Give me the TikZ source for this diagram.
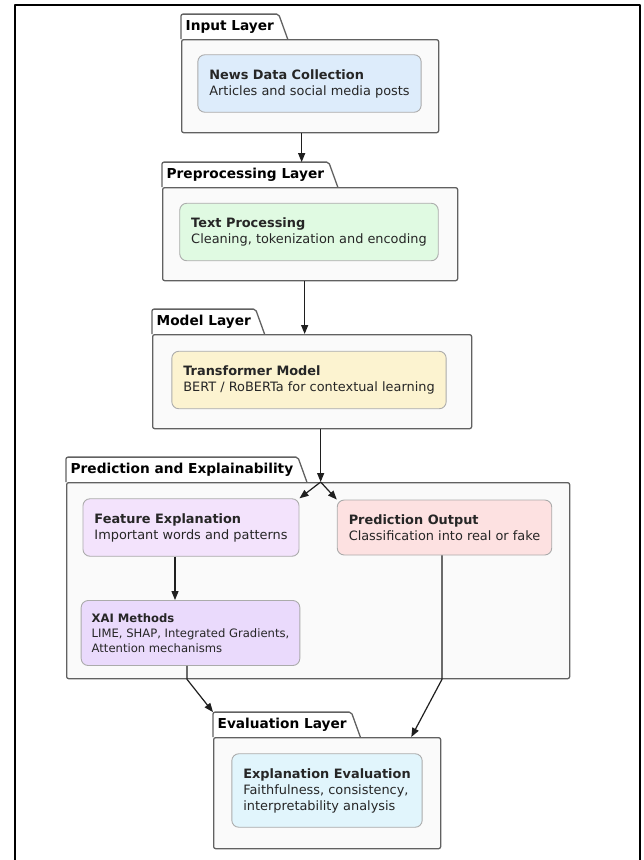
\documentclass[tikz,border=0pt]{standalone}
\usepackage{fontspec}
\setmainfont{DejaVu Sans}
\usetikzlibrary{positioning,arrows.meta,calc}
\definecolor{newsblue}{RGB}{221,236,251}
\definecolor{procgreen}{RGB}{224,250,226}
\definecolor{modelyellow}{RGB}{252,243,208}
\definecolor{featlilac}{RGB}{243,227,252}
\definecolor{predpink}{RGB}{253,225,225}
\definecolor{xaiviolet}{RGB}{234,218,252}
\definecolor{evalcyan}{RGB}{225,245,252}

\begin{document}
\begin{tikzpicture}[x=1pt,y=-1pt,line join=round,
  font=\fontsize{12.9}{16}\selectfont,
  pkg/.style={draw=black!62,fill=black!2,line width=1.3pt,rounded corners=2pt,
    anchor=north west,inner sep=0pt},
  pkgtab/.style={anchor=south west,inner xsep=4.5pt,inner ysep=0pt,minimum height=24.5pt,
    font=\fontsize{13.7}{16}\selectfont\bfseries},
  tabline/.style={draw=black!62,line width=1.3pt,rounded corners=2pt},
  card/.style={draw=black!33,line width=0.9pt,rounded corners=7pt,align=left,
    inner xsep=11.5pt,inner ysep=14.5pt,text=black!85},
  flow/.style={draw=black!88,line width=1.2pt,-{Triangle[length=9pt,width=7pt]}}]
  \useasboundingbox (0,0) rectangle (643,860);
  \draw[line width=1.8pt] (15,860) -- (15,5) -- (640,5) -- (640,860);

  % layer bodies
  \node[pkg,minimum width=257pt,minimum height=93pt] (inputLayer) at (181,39) {};
  \node[pkg,minimum width=295pt,minimum height=93pt] (prepLayer) at (162,187) {};
  \node[pkg,minimum width=319pt,minimum height=94pt] (modelLayer) at (152,334) {};
  \node[pkg,minimum width=503pt,minimum height=196pt] (predLayer) at (66,482) {};
  \node[pkg,minimum width=227pt,minimum height=111pt] (evalLayer) at (213,737) {};

  % tabs
  \node[pkgtab] (inputTab) at (inputLayer.north west) {Input Layer};
  \node[pkgtab] (prepTab) at (prepLayer.north west) {Preprocessing Layer};
  \node[pkgtab] (modelTab) at (modelLayer.north west) {Model Layer};
  \node[pkgtab] (predTab) at (predLayer.north west) {Prediction and Explainability};
  \node[pkgtab] (evalTab) at (evalLayer.north west) {Evaluation Layer};
  \foreach \t in {inputTab,prepTab,modelTab,predTab,evalTab}
    \draw[tabline] (\t.south west) -- (\t.north west) -- (\t.north east)
      -- ([xshift=9pt]\t.south east);

  % components
  \node[card,fill=newsblue] (newsData) at (309.5,83.5)
    {\textbf{News Data Collection}\\Articles and social media posts};
  \node[card,fill=procgreen] (textProc) at (309,232)
    {\textbf{Text Processing}\\Cleaning, tokenization and encoding};
  \node[card,fill=modelyellow] (transformer) at (309,380)
    {\textbf{Transformer Model}\\BERT / RoBERTa for contextual learning};
  \node[card,fill=featlilac] (featExpl) at (191,527.5)
    {\textbf{Feature Explanation}\\Important words and patterns};
  \node[card,fill=predpink] (predOut) at (444.5,527.5)
    {\textbf{Prediction Output}\\Classification into real or fake};
  \node[card,fill=xaiviolet,font=\fontsize{11.6}{15}\selectfont,inner xsep=10.5pt,
    inner ysep=13pt] (xaiMeth) at (190.5,633)
    {\textbf{XAI Methods}\\LIME, SHAP, Integrated Gradients,\\Attention mechanisms};
  \node[card,fill=evalcyan] (explEval) at (327,790.5)
    {\textbf{Explanation Evaluation}\\Faithfulness, consistency,\\interpretability analysis};

  % connectors
  \draw[flow] ([xshift=-8.5pt]inputLayer.south) -- ([xshift=-8.5pt]inputLayer.south |- prepTab.north);
  \draw[flow] ([xshift=-5.5pt]prepLayer.south) -- ([xshift=-5.5pt]prepLayer.south |- modelLayer.north);
  \coordinate (split) at ([xshift=8.5pt]modelLayer.south |- predLayer.north);
  \draw[flow] (modelLayer.south -| split) -- (split);
  \draw[flow] (split) -- (featExpl.north east);
  \draw[flow] (split) -- (predOut.north west);
  \draw[flow] ([xshift=-16pt]featExpl.south) -- ([xshift=-16pt]featExpl.south |- xaiMeth.north);
  \draw[flow] ([xshift=-3.5pt]xaiMeth.south) -- ([xshift=-3.5pt]xaiMeth.south |- predLayer.south)
    -- (evalTab.north west);
  \draw[flow] ([xshift=-2.5pt]predOut.south) -- ([xshift=-2.5pt]predOut.south |- predLayer.south)
    -- ([xshift=-30pt]evalLayer.north east);
\end{tikzpicture}
\end{document}
